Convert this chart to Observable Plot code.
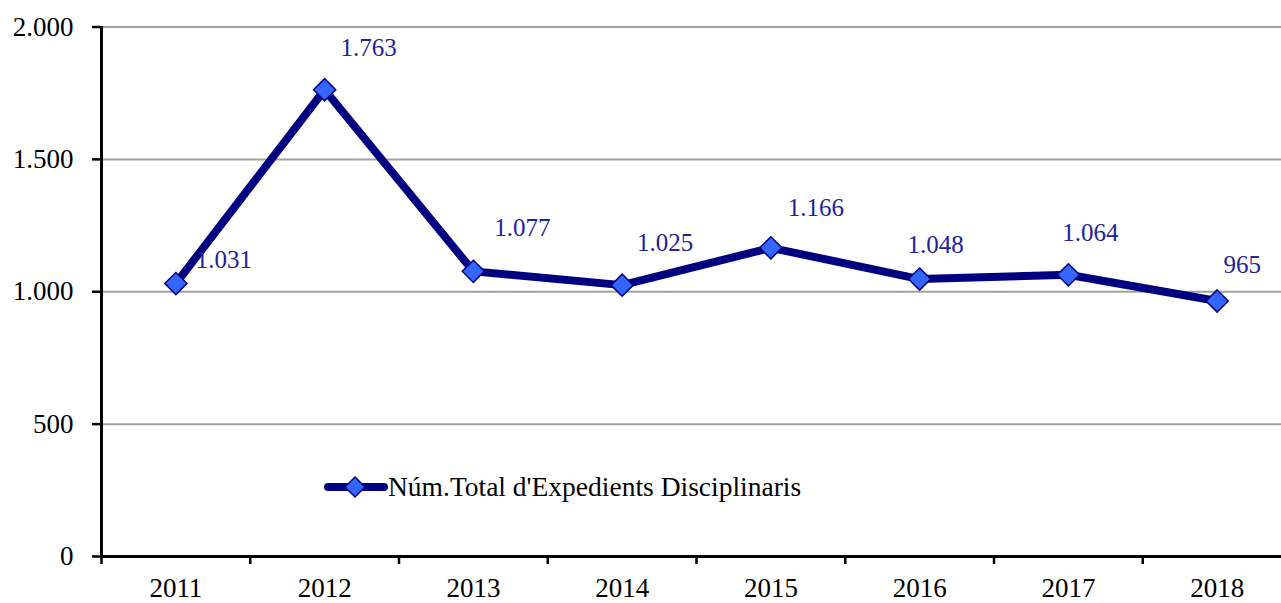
<!DOCTYPE html>
<html>
<head>
<meta charset="utf-8">
<script src="https://cdn.jsdelivr.net/npm/d3@7"></script>
<script src="https://cdn.jsdelivr.net/npm/@observablehq/plot@0.6"></script>
<style>
  html, body { margin: 0; padding: 0; background: #fff; }
  #wrap { position: relative; width: 1281px; height: 603px; overflow: hidden; }
  #legend { position: absolute; left: 324px; top: 470px; display: flex; align-items: center;
            font-family: "Liberation Serif", "Times New Roman", Times, "DejaVu Serif", serif; font-size: 27.5px; color: #000; white-space: nowrap; }
  #legend svg { display: block; }
  #chart svg text { font-family: "Liberation Serif", "Times New Roman", Times, "DejaVu Serif", serif; }
</style>
</head>
<body>
<div id="wrap">
  <div id="chart"></div>
  <div id="legend"></div>
</div>
<script>
const years = [2011, 2012, 2013, 2014, 2015, 2016, 2017, 2018];
const totals = [1031, 1763, 1077, 1025, 1166, 1048, 1064, 965];
const yTicks = [0, 500, 1000, 1500, 2000];
const seriesName = "Núm.Total d'Expedients Disciplinaris";

// label nudges in pixels (layout only)
const labelNudge = [[48, -24], [44, -42], [49, -43], [43, -42], [45, -40], [16, -34], [22, -42], [25, -36]];

const data = years.map((y, i) => ({year: y, value: totals[i]}));
const locale = d3.formatLocale({decimal: ",", thousands: ".", grouping: [3], currency: ["", ""]});
const fmt = locale.format(",.0f");
const xDomain = [years[0] - 0.5, years[years.length - 1] + 0.5];
const boundaries = years.map(y => y - 0.5).concat([years[years.length - 1] + 0.5]);

const lineColor = "#000080";
const markerFill = "#3366ff";
const labelColor = "#222299";
const font = "'Liberation Serif', 'Times New Roman', Times, 'DejaVu Serif', serif";

const chart = Plot.plot({
  width: 1281,
  height: 603,
  marginLeft: 100,
  marginTop: 26,
  marginBottom: 47,
  marginRight: 0,
  style: {fontFamily: font, fontSize: "27px", color: "#000", background: "#fff", overflow: "visible"},
  x: {type: "linear", domain: xDomain, range: [101, 1291]},
  y: {domain: [0, 2000], range: [556, 26.5]},
  marks: [
    Plot.ruleY(yTicks.filter(t => t > 0), {stroke: "#a0a0a0", strokeWidth: 2}),
    Plot.axisY({ticks: yTicks, tickSize: 8, tickPadding: 19, tickFormat: fmt, label: null, stroke: "#000", strokeWidth: 2.5, fontSize: 27}),
    Plot.axisX({ticks: boundaries, tickSize: 8, tickFormat: () => "", label: null, strokeWidth: 2.5}),
    Plot.axisX({ticks: years, tickSize: 0, tickPadding: 21, tickFormat: d => String(d), label: null, fontSize: 27}),
    Plot.ruleX([xDomain[0]], {stroke: "#000", strokeWidth: 3}),
    Plot.ruleY([0], {stroke: "#000", strokeWidth: 3}),
    Plot.line(data, {x: "year", y: "value", stroke: lineColor, strokeWidth: 8, strokeLinejoin: "round", strokeLinecap: "round"}),
    Plot.dot(data, {x: "year", y: "value", symbol: "diamond2", r: 10, fill: markerFill, stroke: lineColor, strokeWidth: 1.5}),
    ...data.map((d, i) => Plot.text([d], {x: "year", y: "value", text: d => fmt(d.value), dx: labelNudge[i][0], dy: labelNudge[i][1], fill: labelColor, fontSize: 25}))
  ]
});
document.getElementById("chart").appendChild(chart);

// legend (series key, drawn inside plot area as in the original)
const leg = document.getElementById("legend");
leg.innerHTML = `<svg width="64" height="34" viewBox="0 0 64 34">
  <line x1="4" y1="17" x2="60" y2="17" stroke="${lineColor}" stroke-width="8" stroke-linecap="round"/>
  <path d="M31,7 L41,17 L31,27 L21,17 Z" fill="${markerFill}" stroke="${lineColor}" stroke-width="1.5"/>
</svg><span></span>`;
leg.querySelector("span").textContent = seriesName;
</script>
</body>
</html>
